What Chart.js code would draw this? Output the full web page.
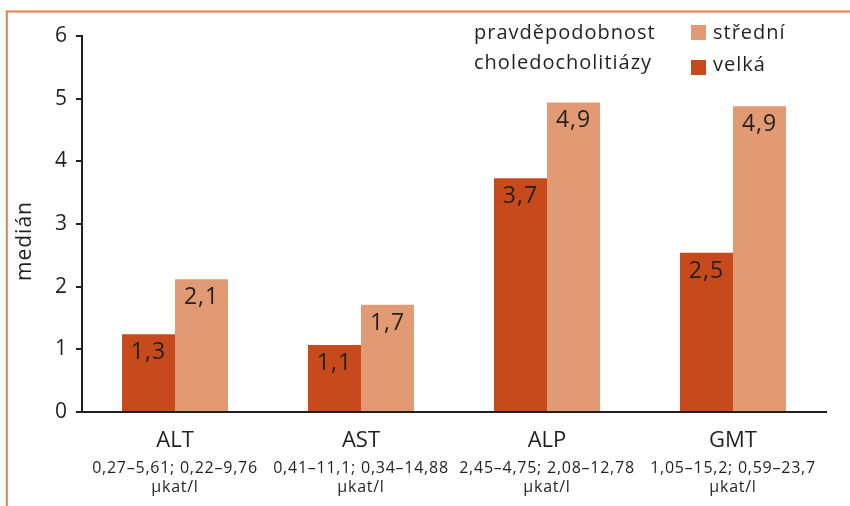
<!DOCTYPE html>
<html>
<head>
<meta charset="utf-8">
<script src="https://cdn.jsdelivr.net/npm/chart.js@4"></script>
<style>
html,body{margin:0;padding:0;background:#fff;}
#wrap{width:850px;height:506px;position:relative;}
</style>
</head>
<body>
<div id="wrap"><canvas id="c" width="850" height="506"></canvas></div>
<script>
const categories = ['ALT', 'AST', 'ALP', 'GMT'];
const ranges = ['0,27–5,61; 0,22–9,76', '0,41–11,1; 0,34–14,88', '2,45–4,75; 2,08–12,78', '1,05–15,2; 0,59–23,7'];
const unitLabel = 'µkat/l';
const velka = [1.24, 1.07, 3.73, 2.54];
const stredni = [2.12, 1.71, 4.94, 4.88];
const velkaLabels = ['1,3', '1,1', '3,7', '2,5'];
const stredniLabels = ['2,1', '1,7', '4,9', '4,9'];
const yMin = 0, yMax = 6, yStep = 1;
const yTitle = 'medián';
const legendTitle = ['pravděpodobnost', 'choledocholitiázy'];
const seriesNames = ['velká', 'střední'];

const DARK = '#C64A1C';
const LIGHT = '#E29A74';
const TEXT = '#231f20';
const FONT = '"Open Sans", "Liberation Sans", sans-serif';

const decor = {
  id: 'decor',
  beforeDraw(chart) {
    const ctx = chart.ctx;
    ctx.save();
    ctx.strokeStyle = '#E0804F';
    ctx.lineWidth = 2;
    ctx.beginPath();
    ctx.moveTo(6.8, 506);
    ctx.lineTo(6.8, 11.5);
    ctx.lineTo(850, 11.5);
    ctx.stroke();
    ctx.restore();
  },
  afterDraw(chart) {
    const ctx = chart.ctx;
    const x = chart.scales.x;
    const y = chart.scales.y;
    ctx.save();
    ctx.fillStyle = TEXT;
    // y title
    ctx.save();
    ctx.font = '21px ' + FONT;
    ctx.letterSpacing = '1px';
    ctx.textAlign = 'center';
    ctx.textBaseline = 'alphabetic';
    ctx.translate(31, 241);
    ctx.rotate(-Math.PI / 2);
    ctx.fillText(yTitle, 0, 0);
    ctx.restore();
    // value labels
    ctx.font = '23px ' + FONT;
    ctx.letterSpacing = '1px';
    ctx.textAlign = 'center';
    ctx.textBaseline = 'alphabetic';
    const lbls = [velkaLabels, stredniLabels];
    chart.data.datasets.forEach((ds, di) => {
      chart.getDatasetMeta(di).data.forEach((bar, i) => {
        ctx.fillText(lbls[di][i], bar.x, bar.y + 25);
      });
    });
    // ranges under categories
    ctx.font = '16px ' + FONT;
    ctx.letterSpacing = '0.75px';
    ctx.textBaseline = 'middle';
    categories.forEach((c, i) => {
      const px = x.getPixelForValue(i);
      ctx.fillText(ranges[i], px, 468);
      ctx.fillText(unitLabel, px, 487);
    });
    // legend
    ctx.textAlign = 'left';
    ctx.font = '20px ' + FONT;
    ctx.letterSpacing = '1px';
    ctx.fillText(legendTitle[0], 474, 33);
    ctx.fillText(legendTitle[1], 474, 63);
    ctx.fillStyle = LIGHT;
    ctx.fillRect(691, 25, 15, 15);
    ctx.fillStyle = DARK;
    ctx.fillRect(691, 60, 15, 15);
    ctx.fillStyle = TEXT;
    ctx.fillText(seriesNames[1], 713, 33);
    ctx.fillText(seriesNames[0], 713, 65);
    ctx.restore();
  }
};

new Chart(document.getElementById('c'), {
  type: 'bar',
  data: {
    labels: categories,
    datasets: [
      { label: seriesNames[0], data: velka, backgroundColor: DARK, borderWidth: 0 },
      { label: seriesNames[1], data: stredni, backgroundColor: LIGHT, borderWidth: 0 }
    ]
  },
  options: {
    responsive: false,
    animation: false,
    devicePixelRatio: 1,
    layout: { padding: { left: 8, top: 36, right: 24, bottom: 0 } },
    datasets: { bar: { barPercentage: 1, categoryPercentage: 0.57 } },
    plugins: { legend: { display: false }, tooltip: { enabled: false } },
    scales: {
      x: {
        grid: { display: false },
        border: { display: true, color: TEXT, width: 2 },
        ticks: { color: TEXT, font: { family: FONT, size: 22 }, padding: 8 },
        afterFit(s) { s.height = 94; }
      },
      y: {
        min: yMin, max: yMax,
        ticks: { stepSize: yStep, color: TEXT, font: { family: FONT, size: 21 }, padding: 9 },
        grid: { drawOnChartArea: false, drawTicks: true, tickLength: 6, color: TEXT, lineWidth: 2 },
        border: { display: true, color: TEXT, width: 2 },
        title: { display: false },
        afterFit(s) { s.width = 74; }
      }
    }
  },
  plugins: [decor]
});
</script>
</body>
</html>
